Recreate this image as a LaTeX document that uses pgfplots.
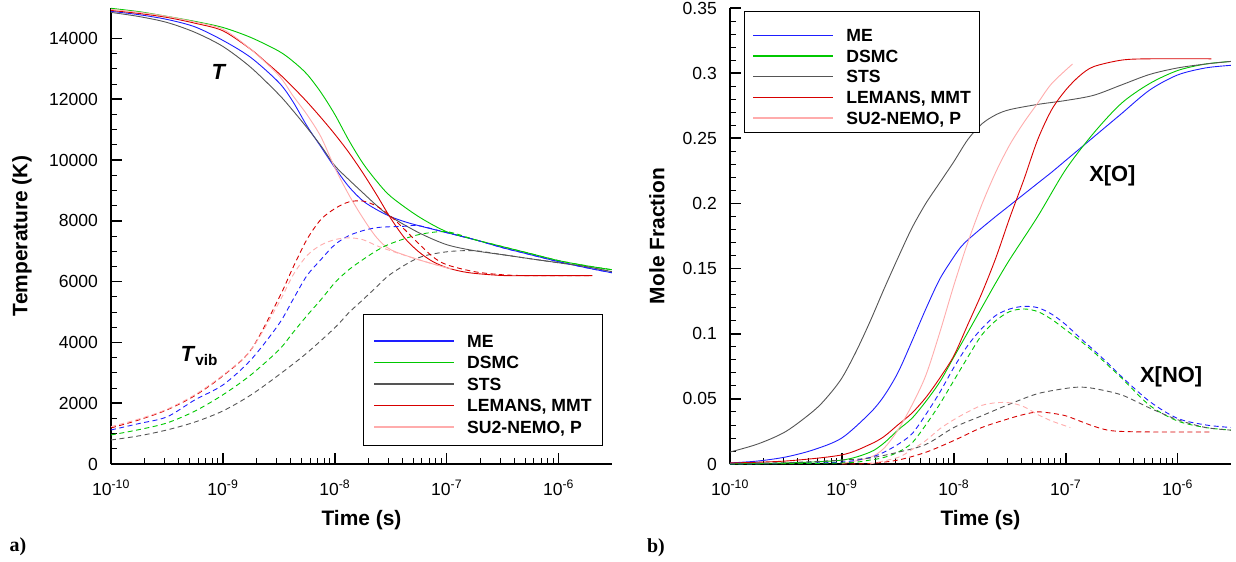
\documentclass[border=0pt]{standalone}
\usepackage{pgfplots}
\pgfplotsset{compat=1.18}
\usepackage{fontspec}
\setmainfont{Liberation Sans}
\newfontfamily\seriffont{Liberation Serif}
\definecolor{colme}{RGB}{30,30,255}
\definecolor{colds}{RGB}{0,200,0}
\definecolor{colst}{RGB}{85,85,85}
\definecolor{colle}{RGB}{215,0,0}
\definecolor{colsu}{RGB}{255,172,172}
\newcommand{\lent}[1]{\rule[-3bp]{0pt}{15.7bp}#1}
\newcommand{\lentA}[1]{\rule[-3bp]{0pt}{25bp}#1}
\newcommand{\lentB}[1]{\rule[-3bp]{0pt}{26bp}#1}
\pgfplotsset{
 myax/.style={
  scale only axis, width=501bp, height=456bp,
  no markers, clip mode=individual, scaled y ticks=false,
  axis x line*=bottom, axis y line*=left,
  axis line style={line width=1.6bp, black},
  tick align=inside,
  major tick length=11bp, minor tick length=6bp,
  major tick style={line width=1.6bp,black},
  minor tick style={line width=0.8bp,black},
  xtick={1e-10,1e-9,1e-8,1e-7,1e-6},
  xticklabels={10\textsuperscript{-10},10\textsuperscript{-9},10\textsuperscript{-8},10\textsuperscript{-7},10\textsuperscript{-6}},
  tick label style={font=\fontsize{17.6}{20}\selectfont, inner sep=0pt},
  xticklabel style={anchor=base, yshift=-31bp},
  yticklabel style={anchor=east, xshift=-13bp},
  label style={font=\fontsize{21}{24}\selectfont\bfseries},
  xlabel={Time (s)},
  xlabel style={at={(axis description cs:0.5,-0.1338)}, anchor=base},
  every axis plot/.append style={line width=0.9bp, smooth, tension=0.5},
  legend cell align=left,
  legend style={draw=black, line width=0.8bp, fill=white,
    font=\fontsize{17.7}{20}\selectfont\bfseries,
    inner xsep=11bp, inner ysep=11bp, row sep=7.3bp,
    cells={anchor=base west},
    nodes={inner sep=0pt},
    /tikz/every odd column/.append style={column sep=13bp}},
 },
 vib/.style={dash pattern=on 5bp off 3.5bp, forget plot},
 pME/.style={draw=colme, color=colme, legend image code/.code={\fill[colme, draw=none] (0bp,5.7bp) rectangle (80bp,6.9bp);}},
 pDS/.style={draw=colds, color=colds, legend image code/.code={\fill[colds, draw=none] (0bp,5.7bp) rectangle (80bp,6.9bp);}},
 pST/.style={draw=colst, color=colst, legend image code/.code={\fill[colst, draw=none] (0bp,5.7bp) rectangle (80bp,6.9bp);}},
 pLE/.style={draw=colle, color=colle, legend image code/.code={\fill[colle, draw=none] (0bp,5.7bp) rectangle (80bp,6.9bp);}},
 pSU/.style={draw=colsu, color=colsu, legend image code/.code={\fill[colsu, draw=none] (0bp,5.7bp) rectangle (80bp,6.9bp);}},
}
\begin{document}
\begin{tikzpicture}
\useasboundingbox (-111bp,-98bp) rectangle (1125bp,464bp);
% ---------------- left panel ----------------
\begin{axis}[xmode=log, xmin=1e-10, xmax=3e-6, myax, at={(0bp,0bp)}, anchor=south west,
  ymin=0, ymax=15000,
  ytick={0,2000,4000,6000,8000,10000,12000,14000},
  yticklabels={0,2000,4000,6000,8000,10000,12000,14000},
  minor y tick num=3,
  ylabel={Temperature (K)},
  ylabel style={at={(axis description cs:-0.1776,0.5)}, anchor=center},
  legend style={at={(axis description cs:0.982,0.039)}, anchor=south east}]
% T
\addplot[pME] coordinates {(1e-10,14890) (1.778e-10,14780) (3.162e-10,14625) (5.623e-10,14380) (1e-9,13935) (1.778e-9,13370) (3.162e-9,12550) (4.217e-9,11925) (5.623e-9,11130) (7.499e-9,10440) (1e-8,9750) (1.334e-8,9125) (1.778e-8,8660) (2.371e-8,8365) (3.162e-8,8135) (4.217e-8,7970) (5.623e-8,7840) (1e-7,7610) (1.778e-7,7380) (3.162e-7,7115) (5.623e-7,6885) (1e-6,6655) (1.778e-6,6455) (3e-6,6290)};
\addlegendentry{\lentA{ME}}
\addplot[pDS] coordinates {(1e-10,14990) (1.778e-10,14880) (3.162e-10,14725) (5.623e-10,14560) (1e-9,14360) (1.778e-9,14030) (3.162e-9,13580) (4.217e-9,13250) (5.623e-9,12830) (7.499e-9,12230) (1e-8,11500) (1.334e-8,10650) (1.778e-8,9900) (2.371e-8,9300) (3.162e-8,8800) (5.623e-8,8135) (1e-7,7640) (1.778e-7,7380) (3.162e-7,7150) (5.623e-7,6920) (1e-6,6690) (1.778e-6,6520) (3e-6,6390)};
\addlegendentry{\lent{DSMC}}
\addplot[pST] coordinates {(1e-10,14855) (1.778e-10,14720) (3.162e-10,14525) (5.623e-10,14200) (1e-9,13735) (1.778e-9,13045) (3.162e-9,12155) (4.217e-9,11630) (5.623e-9,11070) (7.499e-9,10475) (1e-8,9815) (1.334e-8,9355) (1.778e-8,8925) (2.371e-8,8500) (3.162e-8,8135) (5.623e-8,7610) (1e-7,7215) (1.778e-7,7015) (3.162e-7,6885) (5.623e-7,6750) (1e-6,6620) (1.778e-6,6490) (3e-6,6325)};
\addlegendentry{\lent{STS}}
\addplot[pLE] coordinates {(1e-10,14920) (1.778e-10,14820) (3.162e-10,14690) (5.623e-10,14500) (1e-9,14250) (1.778e-9,13640) (2.371e-9,13250) (3.162e-9,12850) (4.217e-9,12400) (5.623e-9,11920) (7.499e-9,11400) (1e-8,10850) (1.334e-8,10250) (1.778e-8,9580) (2.371e-8,8850) (3.162e-8,8080) (4.217e-8,7430) (5.623e-8,6980) (7.499e-8,6660) (1e-7,6460) (1.334e-7,6340) (1.778e-7,6270) (3.162e-7,6200) (5.623e-7,6195) (2e-6,6195)};
\addlegendentry{\lent{LEMANS, MMT}}
\addplot[pSU] coordinates {(1e-10,14955) (1.778e-10,14860) (3.162e-10,14725) (5.623e-10,14540) (1e-9,14300) (1.778e-9,13640) (3.162e-9,12780) (4.217e-9,12120) (5.623e-9,11500) (7.499e-9,10770) (1e-8,9750) (1.334e-8,8860) (1.778e-8,8100) (2.371e-8,7445) (3.162e-8,7050) (5.623e-8,6720) (1e-7,6455) (1.12e-7,6420)};
\addlegendentry{\lent{SU2-NEMO, P}}
% Tvib
\addplot[pME,vib] coordinates {(1e-10,1120) (1.778e-10,1330) (3.162e-10,1550) (5.623e-10,2110) (1e-9,2600) (1.778e-9,3425) (3.162e-9,4600) (4.217e-9,5400) (5.623e-9,6190) (7.499e-9,6720) (1e-8,7215) (1.334e-8,7510) (1.778e-8,7675) (2.371e-8,7775) (3.162e-8,7805) (4.217e-8,7820) (5.623e-8,7840) (1e-7,7610) (1.778e-7,7380) (3.162e-7,7115) (5.623e-7,6885) (1e-6,6655) (1.778e-6,6455) (3e-6,6290)};
\addplot[pDS,vib] coordinates {(1e-10,955) (1.778e-10,1130) (3.162e-10,1350) (5.623e-10,1740) (1e-9,2275) (1.778e-9,2930) (3.162e-9,3750) (4.217e-9,4315) (5.623e-9,4875) (7.499e-9,5400) (1e-8,5960) (1.334e-8,6390) (1.778e-8,6720) (2.371e-8,7020) (3.162e-8,7250) (5.623e-8,7545) (1e-7,7640) (1.778e-7,7380) (3.162e-7,7150) (5.623e-7,6920) (1e-6,6690) (1.778e-6,6520) (3e-6,6390)};
\addplot[pST,vib] coordinates {(1e-10,790) (1.778e-10,925) (3.162e-10,1120) (5.623e-10,1380) (1e-9,1745) (1.778e-9,2270) (3.162e-9,2930) (5.623e-9,3650) (1e-8,4480) (1.334e-8,4975) (1.778e-8,5400) (2.371e-8,5830) (3.162e-8,6250) (5.623e-8,6785) (1e-7,6980) (1.778e-7,7015) (3.162e-7,6885) (5.623e-7,6750) (1e-6,6620) (1.778e-6,6490) (3e-6,6325)};
\addplot[pLE,vib] coordinates {(1e-10,1186) (1.778e-10,1450) (3.162e-10,1780) (5.623e-10,2250) (1e-9,2900) (1.778e-9,3750) (3.162e-9,5450) (4.217e-9,6450) (5.623e-9,7380) (7.499e-9,8040) (1e-8,8400) (1.334e-8,8620) (1.778e-8,8650) (2.371e-8,8480) (3.162e-8,8150) (4.217e-8,7710) (5.623e-8,7250) (7.499e-8,6820) (1e-7,6555) (1.778e-7,6325) (3.162e-7,6225) (5.623e-7,6195) (2e-6,6195)};
\addplot[pSU,vib] coordinates {(1e-10,1230) (1.778e-10,1480) (3.162e-10,1800) (5.623e-10,2280) (1e-9,2920) (1.778e-9,3750) (3.162e-9,5300) (4.217e-9,6200) (5.623e-9,6850) (7.499e-9,7200) (1e-8,7380) (1.334e-8,7440) (1.778e-8,7380) (2.371e-8,7180) (3.162e-8,7015) (5.623e-8,6720) (1e-7,6455) (1.12e-7,6420)};
\node[anchor=base west, font=\fontsize{22}{24}\selectfont\bfseries\itshape] at (axis cs:7.36e-10,12650) {T};
\node[anchor=base west, font=\fontsize{22}{24}\selectfont\bfseries] at (axis cs:3.89e-10,3360) {\textit{T}\textsubscript{vib}};
\node[font=\fontsize{20}{22}\selectfont\bfseries\seriffont] at (axis description cs:-0.1856,-0.182) {a)};
\end{axis}
% ---------------- right panel ----------------
\begin{axis}[xmode=log, xmin=1e-10, xmax=3e-6, myax, at={(619bp,0bp)}, anchor=south west,
  ymin=0, ymax=0.35,
  ytick={0,0.05,0.1,0.15,0.2,0.25,0.3,0.35},
  yticklabels={0,0.05,0.1,0.15,0.2,0.25,0.3,0.35},
  minor y tick num=4,
  ylabel={Mole Fraction},
  ylabel style={at={(axis description cs:-0.1457,0.5)}, anchor=center},
  legend style={at={(axis description cs:0.028,0.993)}, anchor=north west, row sep=6.5bp, inner xsep=9bp, inner ysep=7bp}]
% X[O]
\addplot[pME] coordinates {(1e-10,0.0008) (1.778e-10,0.0023) (3.162e-10,0.0054) (5.623e-10,0.011) (1e-9,0.020) (1.778e-9,0.039) (2.371e-9,0.052) (3.162e-9,0.070) (4.217e-9,0.094) (5.623e-9,0.119) (7.499e-9,0.142) (1e-8,0.159) (1.155e-8,0.1665) (1.334e-8,0.172) (1.778e-8,0.1812) (2.371e-8,0.190) (3.162e-8,0.1985) (4.217e-8,0.207) (5.623e-8,0.2155) (7.499e-8,0.224) (1e-7,0.233) (1.334e-7,0.242) (1.778e-7,0.251) (2.371e-7,0.260) (3.162e-7,0.269) (5.623e-7,0.287) (1e-6,0.2986) (1.778e-6,0.304) (3e-6,0.306)};
\addlegendentry{\lentB{ME}}
\addplot[pDS] coordinates {(1e-10,0.0003) (3.162e-10,0.0008) (1e-9,0.003) (1.778e-9,0.009) (2.371e-9,0.016) (3.162e-9,0.026) (4.217e-9,0.035) (5.623e-9,0.048) (7.499e-9,0.063) (1e-8,0.082) (1.334e-8,0.101) (1.778e-8,0.120) (2.371e-8,0.139) (3.162e-8,0.157) (5.623e-8,0.190) (1e-7,0.226) (1.778e-7,0.254) (3.162e-7,0.277) (5.623e-7,0.292) (1e-6,0.302) (1.778e-6,0.307) (3e-6,0.309)};
\addlegendentry{\lent{DSMC}}
\addplot[pST] coordinates {(1e-10,0.0092) (1.778e-10,0.0154) (3.162e-10,0.025) (5.623e-10,0.041) (7.499e-10,0.052) (1e-9,0.066) (1.334e-9,0.086) (1.778e-9,0.109) (2.371e-9,0.134) (3.162e-9,0.158) (4.217e-9,0.181) (5.623e-9,0.200) (7.499e-9,0.216) (1e-8,0.232) (1.334e-8,0.249) (1.778e-8,0.261) (2.371e-8,0.268) (3.162e-8,0.272) (5.623e-8,0.276) (1e-7,0.279) (1.778e-7,0.283) (3.162e-7,0.291) (5.623e-7,0.299) (1e-6,0.304) (1.778e-6,0.307) (3e-6,0.309)};
\addlegendentry{\lent{STS}}
\addplot[pLE] coordinates {(1e-10,0.0008) (3.162e-10,0.0023) (1e-9,0.007) (1.778e-9,0.015) (2.371e-9,0.021) (3.162e-9,0.030) (4.217e-9,0.039) (5.623e-9,0.051) (7.499e-9,0.066) (1e-8,0.083) (1.334e-8,0.107) (1.778e-8,0.131) (2.371e-8,0.158) (3.162e-8,0.189) (4.217e-8,0.218) (5.623e-8,0.249) (7.499e-8,0.272) (1e-7,0.287) (1.334e-7,0.298) (1.778e-7,0.305) (3.162e-7,0.310) (5.623e-7,0.311) (2e-6,0.311)};
\addlegendentry{\lent{LEMANS, MMT}}
\addplot[pSU] coordinates {(1e-9,0.0003) (1.778e-9,0.005) (2.371e-9,0.012) (3.162e-9,0.026) (4.217e-9,0.045) (5.623e-9,0.068) (7.499e-9,0.101) (1e-8,0.137) (1.334e-8,0.170) (1.778e-8,0.199) (2.371e-8,0.224) (3.162e-8,0.245) (4.217e-8,0.262) (5.623e-8,0.277) (7.499e-8,0.292) (1.15e-7,0.307)};
\addlegendentry{\lent{SU2-NEMO, P}}
% X[NO]
\addplot[pME,vib] coordinates {(1e-10,0) (3.162e-10,0.0004) (1e-9,0.0015) (1.778e-9,0.005) (2.371e-9,0.009) (3.162e-9,0.015) (4.217e-9,0.023) (5.623e-9,0.038) (7.499e-9,0.055) (1e-8,0.074) (1.334e-8,0.091) (1.778e-8,0.104) (2.371e-8,0.114) (3.162e-8,0.119) (4.217e-8,0.121) (5.623e-8,0.120) (7.499e-8,0.115) (1e-7,0.107) (1.334e-7,0.097) (1.778e-7,0.0875) (2.371e-7,0.0775) (3.162e-7,0.067) (5.623e-7,0.048) (1e-6,0.035) (1.778e-6,0.030) (3e-6,0.028)};
\addplot[pDS,vib] coordinates {(1e-10,0) (1e-9,0.0008) (1.778e-9,0.003) (2.371e-9,0.005) (3.162e-9,0.009) (4.217e-9,0.016) (5.623e-9,0.030) (7.499e-9,0.046) (1e-8,0.064) (1.334e-8,0.082) (1.778e-8,0.099) (2.371e-8,0.110) (3.162e-8,0.117) (4.217e-8,0.119) (5.623e-8,0.117) (7.499e-8,0.111) (1e-7,0.103) (1.334e-7,0.095) (1.778e-7,0.086) (2.371e-7,0.076) (3.162e-7,0.066) (5.623e-7,0.045) (1e-6,0.033) (1.778e-6,0.028) (3e-6,0.026)};
\addplot[pST,vib] coordinates {(1e-10,0.0005) (3.162e-10,0.001) (1e-9,0.003) (1.778e-9,0.0046) (3.162e-9,0.009) (5.623e-9,0.015) (1e-8,0.028) (1.778e-8,0.037) (3.162e-8,0.046) (5.623e-8,0.054) (1e-7,0.058) (1.334e-7,0.059) (1.778e-7,0.058) (3.162e-7,0.053) (5.623e-7,0.043) (1e-6,0.034) (1.778e-6,0.028) (3e-6,0.026)};
\addplot[pLE,vib] coordinates {(1e-9,0) (1.778e-9,0.0004) (3.162e-9,0.003) (5.623e-9,0.009) (1e-8,0.018) (1.778e-8,0.028) (3.162e-8,0.035) (4.217e-8,0.038) (5.623e-8,0.040) (7.499e-8,0.039) (1e-7,0.037) (1.334e-7,0.033) (1.778e-7,0.029) (2.371e-7,0.026) (3.162e-7,0.025) (5.623e-7,0.0246) (2e-6,0.0246)};
\addplot[pSU,vib] coordinates {(1.778e-9,0) (3.162e-9,0.005) (4.217e-9,0.011) (5.623e-9,0.018) (7.499e-9,0.027) (1e-8,0.034) (1.334e-8,0.040) (1.778e-8,0.045) (2.371e-8,0.047) (3.162e-8,0.047) (4.217e-8,0.044) (5.623e-8,0.038) (7.499e-8,0.033) (1.1e-7,0.028)};
\node[anchor=base west, font=\fontsize{22}{24}\selectfont\bfseries] at (axis cs:1.51e-7,0.2172) {X[O]};
\node[anchor=base west, font=\fontsize{22}{24}\selectfont\bfseries] at (axis cs:4.3e-7,0.0622) {X[NO]};
\node[font=\fontsize{20}{22}\selectfont\bfseries\seriffont] at (axis description cs:-0.1477,-0.184) {b)};
\end{axis}
\end{tikzpicture}
\end{document}
